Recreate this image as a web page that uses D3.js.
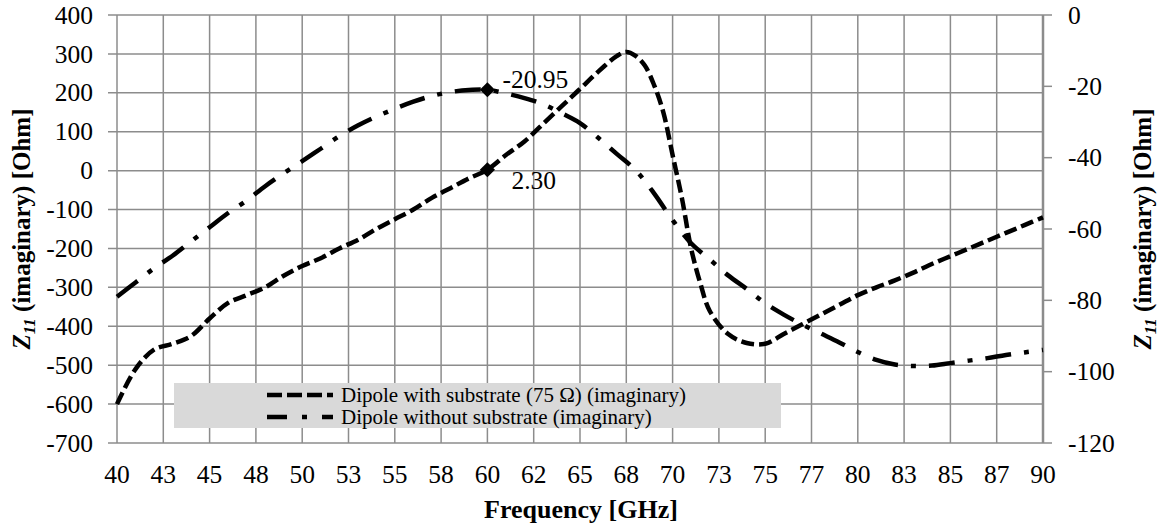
<!DOCTYPE html>
<html>
<head lang="en">
    <meta charset="UTF-8">
    <title>Z11 imaginary</title>
    <script src="https://cdnjs.cloudflare.com/ajax/libs/d3/7.8.5/d3.min.js"></script>
    <style>
        body { margin: 0; background: #fff; }
        text { font-family: "Liberation Serif", "Times New Roman", serif; fill: #000; }
    </style>
</head>
<body>
<div id="chart"></div>
<script>
// frequency in GHz
var freqWith = [40, 41, 42, 43, 44, 45, 46, 47, 48, 49, 50, 51, 52, 53, 54, 55, 56, 57, 58, 59, 60,
    61, 62, 63, 64, 65, 66, 67, 67.5, 68, 68.5, 69, 69.5, 70, 70.5, 71, 71.5, 72, 73, 74, 75,
    76, 77, 78, 79, 80, 81, 82, 83, 84, 85, 86, 87, 88, 89, 90];
// dipole with substrate, left axis (Ohm)
var zWith = [-600, -510, -460, -445, -425, -380, -340, -320, -300, -270, -245, -225, -200, -178, -150, -125, -100, -70, -45, -20, 2.3,
    40, 75, 120, 165, 210, 255, 295, 305, 295, 270, 220, 150, 40, -70, -200, -290, -360, -420, -443, -445,
    -420, -395, -370, -345, -320, -300, -282, -262, -240, -220, -200, -180, -160, -140, -120];

var freqWithout = [40, 41, 42, 43, 44, 45, 46, 47, 48, 49, 50, 51, 52, 53, 54, 55, 56, 57, 58, 59, 60,
    61, 62, 63, 64, 65, 66, 67, 68, 69, 70, 71, 72, 73, 74, 75, 76, 77, 78, 79, 80,
    81, 82, 83, 84, 85, 86, 87, 88, 89, 90];
// dipole without substrate, right axis (Ohm)
var zWithout = [-79, -75, -71, -67.5, -63.5, -59.5, -55.5, -52, -48, -44.4, -41, -37.5, -34, -31, -28.5, -26.3, -24.3, -22.7, -21.6, -21, -20.95,
    -22, -23.3, -25, -27.5, -30.3, -34.5, -39, -43.5, -50, -57.5, -64, -68.5, -73, -76.8, -80.8, -84, -86.8, -89.3, -91.8, -94.5,
    -96.7, -98, -98.4, -98.3, -97.6, -96.9, -96.2, -95.3, -94.6, -93.9];

var xTickValues = [40, 42.5, 45, 47.5, 50, 52.5, 55, 57.5, 60, 62.5, 65, 67.5, 70, 72.5, 75, 77.5, 80, 82.5, 85, 87.5, 90];
var xTickLabels = ["40", "43", "45", "48", "50", "53", "55", "58", "60", "62", "65", "68", "70", "73", "75", "77", "80", "83", "85", "87", "90"];
var leftTicks = [-700, -600, -500, -400, -300, -200, -100, 0, 100, 200, 300, 400];
var rightTicks = [-120, -100, -80, -60, -40, -20, 0];

var markFreq = 60;
var markWith = 2.30;
var markWithout = -20.95;

var seriesNames = ["Dipole with substrate (75 \u03a9) (imaginary)", "Dipole without substrate (imaginary)"];

var width = 1161, height = 531;
var pLeft = 117, pRight = 1043, pTop = 15, pBottom = 443;
var fs = "25.5px";

var svg = d3.select("#chart").append("svg")
    .attr("width", width)
    .attr("height", height);

var x = d3.scaleLinear().domain([40, 90]).range([pLeft, pRight]);
var yL = d3.scaleLinear().domain([-700, 400]).range([pBottom, pTop]);
var yR = d3.scaleLinear().domain([-120, 0]).range([pBottom, pTop]);

var grid = "#8c8c8c";

// grid
svg.append("g").selectAll("line")
    .data(xTickValues)
    .enter().append("line")
    .attr("x1", function (d) { return x(d); })
    .attr("x2", function (d) { return x(d); })
    .attr("y1", pTop).attr("y2", pBottom)
    .attr("stroke", grid).attr("stroke-width", 1.5);

svg.append("g").selectAll("line")
    .data(leftTicks)
    .enter().append("line")
    .attr("x1", pLeft - 9).attr("x2", pRight)
    .attr("y1", function (d) { return yL(d); })
    .attr("y2", function (d) { return yL(d); })
    .attr("stroke", grid).attr("stroke-width", 1.5);

// right axis
svg.append("line")
    .attr("x1", pRight).attr("x2", pRight).attr("y1", pTop).attr("y2", pBottom)
    .attr("stroke", grid).attr("stroke-width", 2.5);
svg.append("g").selectAll("line")
    .data(rightTicks)
    .enter().append("line")
    .attr("x1", pRight).attr("x2", pRight + 9)
    .attr("y1", function (d) { return yR(d); })
    .attr("y2", function (d) { return yR(d); })
    .attr("stroke", grid).attr("stroke-width", 1.5);

// tick labels
svg.append("g").selectAll("text")
    .data(leftTicks)
    .enter().append("text")
    .attr("x", 93)
    .attr("y", function (d) { return yL(d); })
    .attr("dy", "0.34em")
    .attr("text-anchor", "end")
    .style("font-size", fs)
    .text(function (d) { return d; });

svg.append("g").selectAll("text")
    .data(rightTicks)
    .enter().append("text")
    .attr("x", 1068)
    .attr("y", function (d) { return yR(d); })
    .attr("dy", "0.34em")
    .style("font-size", fs)
    .text(function (d) { return d; });

svg.append("g").selectAll("text")
    .data(xTickValues)
    .enter().append("text")
    .attr("x", function (d) { return x(d); })
    .attr("y", 483)
    .attr("text-anchor", "middle")
    .style("font-size", fs)
    .text(function (d, i) { return xTickLabels[i]; });

// axis titles
svg.append("text")
    .attr("x", (pLeft + pRight) / 2 + 1)
    .attr("y", 518)
    .attr("text-anchor", "middle")
    .style("font-size", "26px")
    .style("font-weight", "bold")
    .text("Frequency [GHz]");

function yTitle(cx) {
    var t = svg.append("text")
        .attr("transform", "translate(" + cx + "," + ((pTop + pBottom) / 2) + ") rotate(-90)")
        .attr("text-anchor", "middle")
        .style("font-size", "25px")
        .style("font-weight", "bold");
    t.append("tspan").style("font-style", "italic").text("Z");
    t.append("tspan").style("font-style", "italic").style("font-size", "17px").attr("dy", 5).text("11");
    t.append("tspan").attr("dy", -5).text(" (imaginary) [Ohm]");
}
yTitle(30);
yTitle(1151);

// series
var lineWith = d3.line()
    .x(function (d) { return x(d[0]); })
    .y(function (d) { return yL(d[1]); })
    .curve(d3.curveCatmullRom);
var lineWithout = d3.line()
    .x(function (d) { return x(d[0]); })
    .y(function (d) { return yR(d[1]); })
    .curve(d3.curveCatmullRom);

var dashA = "13,5";
var dashB = "26,13,5,13";

svg.append("path")
    .datum(d3.zip(freqWithout, zWithout))
    .attr("d", lineWithout)
    .attr("fill", "none").attr("stroke", "#000").attr("stroke-width", 4.5)
    .attr("stroke-dasharray", dashB);

svg.append("path")
    .datum(d3.zip(freqWith, zWith))
    .attr("d", lineWith)
    .attr("fill", "none").attr("stroke", "#000").attr("stroke-width", 4.5)
    .attr("stroke-dasharray", dashA);

// markers (square turned 45 degrees)
var diamond = d3.symbol().type(d3.symbolSquare).size(115);
svg.append("path").attr("d", diamond)
    .attr("transform", "translate(" + x(markFreq) + "," + yL(markWith) + ") rotate(45)");
svg.append("path").attr("d", diamond)
    .attr("transform", "translate(" + x(markFreq) + "," + yR(markWithout) + ") rotate(45)");

svg.append("text")
    .attr("x", x(markFreq) + 24).attr("y", yL(markWith) + 19)
    .style("font-size", fs)
    .text(markWith.toFixed(2));
svg.append("text")
    .attr("x", x(markFreq) + 15).attr("y", yR(markWithout) - 2)
    .style("font-size", fs)
    .text(markWithout.toFixed(2));

// legend
var lg = svg.append("g");
lg.append("rect")
    .attr("x", 174).attr("y", 383).attr("width", 607).attr("height", 45)
    .attr("fill", "#d9d9d9");
[dashA, dashB].forEach(function (dash, i) {
    var yy = 395 + i * 22;
    lg.append("line")
        .attr("x1", 267).attr("x2", 333).attr("y1", yy).attr("y2", yy)
        .attr("stroke", "#000").attr("stroke-width", 4.5)
        .attr("stroke-dasharray", i == 0 ? "15,5" : "20,15,5,15");
    lg.append("text")
        .attr("x", 341).attr("y", yy).attr("dy", "0.34em")
        .style("font-size", "21px")
        .text(seriesNames[i]);
});
</script>
</body>
</html>
